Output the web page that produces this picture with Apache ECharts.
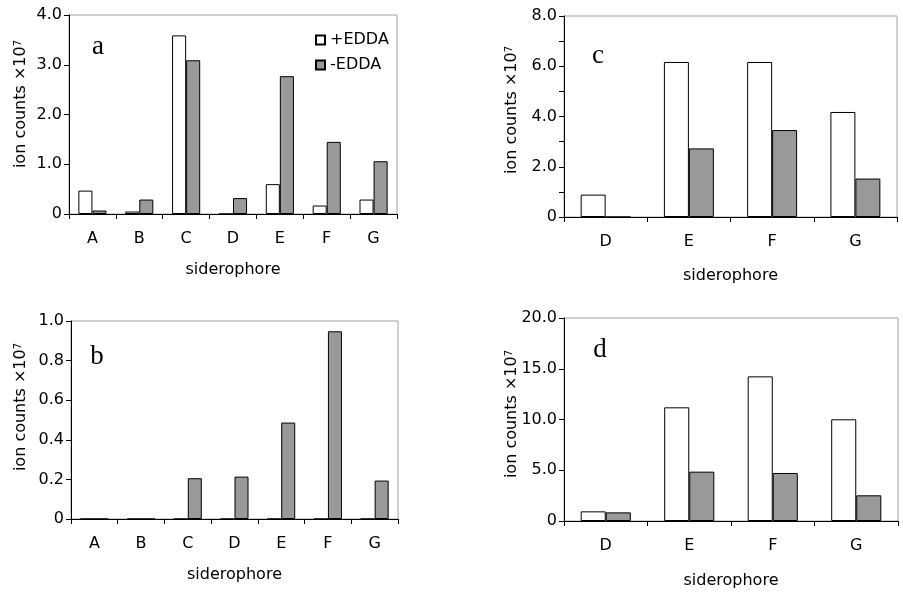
<!DOCTYPE html>
<html>
<head>
<meta charset="utf-8">
<script src="https://cdn.jsdelivr.net/npm/echarts@6/dist/echarts.min.js"></script>
<style>
  html, body { margin: 0; padding: 0; background: #fff; }
  #main { width: 903px; height: 594px; }
</style>
</head>
<body>
<div id="main"></div>
<script>
// categories
const catsAll = ['A', 'B', 'C', 'D', 'E', 'F', 'G'];
const catsDG = ['D', 'E', 'F', 'G'];

// panel a
const aPlus = [0.47, 0.05, 3.59, 0, 0.60, 0.17, 0.29];
const aMinus = [0.07, 0.29, 3.09, 0.32, 2.77, 1.45, 1.06];
// panel b
const bPlus = [0, 0, 0, 0, 0, 0, 0];
const bMinus = [0, 0, 0.206, 0.214, 0.487, 0.948, 0.194];
// panel c
const cPlus = [0.89, 6.17, 6.17, 4.18];
const cMinus = [0, 2.73, 3.46, 1.53];
// panel d
const dPlus = [0.95, 11.2, 14.25, 10.02];
const dMinus = [0.85, 4.86, 4.73, 2.53];

const FONT = 'DejaVu Sans';
const GREY = '#999999';

let myChart = echarts.init(document.getElementById('main'), null, { renderer: 'canvas' });

// x axis for one panel
function xAx(gridIndex, cats, gap) {
  return {
    type: 'category',
    gridIndex: gridIndex,
    data: cats,
    boundaryGap: true,
    name: 'siderophore',
    nameLocation: 'middle',
    nameGap: gap,
    nameTextStyle: { fontFamily: FONT, fontSize: 16, color: '#000' },
    axisLine: { show: true, lineStyle: { color: '#000', width: 1 } },
    axisTick: { show: true, length: 5, lineStyle: { color: '#000' } },
    axisLabel: { fontFamily: FONT, fontSize: 16, color: '#000', margin: 17 },
    splitLine: { show: false },
  };
}

// y axis; labelEvery = show label only on multiples of this value
function yAx(gridIndex, max, interval, labelEvery) {
  return {
    type: 'value',
    gridIndex: gridIndex,
    min: 0,
    max: max,
    interval: interval,
    axisLine: { show: true, lineStyle: { color: '#000', width: 1 } },
    axisTick: { show: true, length: 5, lineStyle: { color: '#000' } },
    axisLabel: {
      fontFamily: FONT,
      fontSize: 16,
      color: '#000',
      margin: 7,
      formatter: function (v) {
        if (v === 0) return '0';
        let k = Math.round(v / labelEvery * 1000) / 1000;
        if (Math.abs(k - Math.round(k)) > 1e-6) return '';
        return v.toFixed(1);
      },
    },
    splitLine: { show: false },
  };
}

function barPair(idx, plus, minus) {
  return [
    {
      name: '+EDDA',
      type: 'bar',
      xAxisIndex: idx,
      yAxisIndex: idx,
      data: plus,
      barGap: '0%',
      barCategoryGap: '40%',
      itemStyle: { color: '#ffffff', borderColor: '#000', borderWidth: 1 },
    },
    {
      name: '-EDDA',
      type: 'bar',
      xAxisIndex: idx,
      yAxisIndex: idx,
      data: minus,
      barGap: '0%',
      barCategoryGap: '40%',
      itemStyle: { color: GREY, borderColor: '#000', borderWidth: 1 },
    },
  ];
}

function yName(x, y) {
  return {
    type: 'text',
    x: x,
    y: y,
    rotation: Math.PI / 2,
    style: {
      text: 'ion counts ×10{sup|7}',
      fontFamily: FONT,
      fontSize: 16,
      fill: '#000',
      align: 'center',
      verticalAlign: 'middle',
      rich: {
        sup: { fontFamily: FONT, fontSize: 10, verticalAlign: 'top', fill: '#000' },
      },
    },
  };
}

function letter(txt, x, y) {
  return {
    type: 'text',
    x: x,
    y: y,
    style: {
      text: txt,
      fontFamily: 'Liberation Serif',
      fontSize: 27,
      fill: '#000',
      align: 'center',
      verticalAlign: 'middle',
    },
  };
}

const gridStyle = { show: true, borderColor: '#a0a0a0', borderWidth: 1, backgroundColor: 'transparent' };

let option = {
  animation: false,
  backgroundColor: '#ffffff',
  grid: [
    Object.assign({ left: 69, top: 15, width: 328, height: 199 }, gridStyle), // a
    Object.assign({ left: 71, top: 321, width: 327, height: 198 }, gridStyle), // b
    Object.assign({ left: 564, top: 16, width: 333, height: 201 }, gridStyle), // c
    Object.assign({ left: 564, top: 318, width: 334, height: 203 }, gridStyle), // d
  ],
  xAxis: [
    xAx(0, catsAll, 48),
    xAx(1, catsAll, 48),
    xAx(2, catsDG, 51),
    xAx(3, catsDG, 52),
  ],
  yAxis: [
    yAx(0, 4, 1, 1),
    yAx(1, 1, 0.2, 0.2),
    yAx(2, 8, 1, 2),
    yAx(3, 20, 5, 5),
  ],
  legend: {
    orient: 'vertical',
    left: 310,
    top: 27,
    icon: 'rect',
    itemWidth: 9,
    itemHeight: 9,
    itemGap: 9,
    data: ['+EDDA', '-EDDA'],
    textStyle: { fontFamily: FONT, fontSize: 16, color: '#000' },
    selectedMode: false,
  },
  graphic: [
    yName(21, 104),
    yName(21, 407),
    yName(512, 110),
    yName(512, 414),
    letter('a', 98, 47),
    letter('c', 598, 56),
    letter('b', 97, 357),
    letter('d', 600, 350),
  ],
  series: [].concat(
    barPair(0, aPlus, aMinus),
    barPair(1, bPlus, bMinus),
    barPair(2, cPlus, cMinus),
    barPair(3, dPlus, dMinus)
  ),
};

myChart.setOption(option);
</script>
</body>
</html>
